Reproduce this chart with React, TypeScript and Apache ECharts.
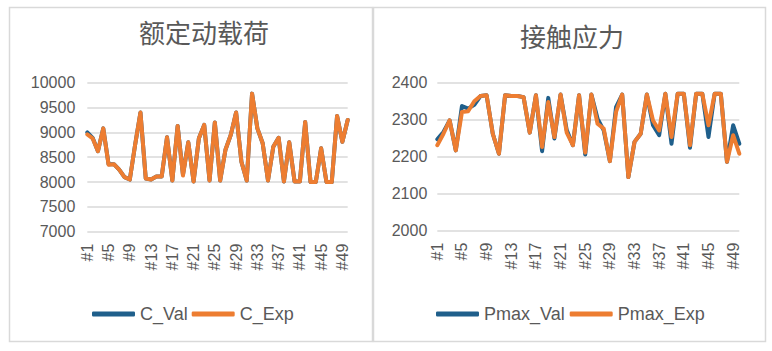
import React, { useEffect, useRef } from "react";
import * as echarts from "echarts";

const categories: string[] = Array.from({ length: 50 }, (_, i) => "#" + (i + 1));

const cVal = [9000, 8890, 8620, 9080, 8360, 8360, 8250, 8100, 8050, 8750, 9400, 8070, 8050, 8110, 8110, 8900, 8030, 9130, 8150, 8800, 8010, 8880, 9150, 8030, 9200, 8030, 8650, 8950, 9400, 8410, 8030, 9780, 9080, 8780, 8030, 8710, 8890, 8010, 8800, 8010, 8010, 9210, 8000, 8000, 8680, 8000, 8000, 9330, 8810, 9250];
const cExp = [8960, 8880, 8620, 9080, 8350, 8360, 8250, 8100, 8050, 8750, 9400, 8070, 8050, 8110, 8110, 8900, 8030, 9130, 8130, 8800, 8010, 8880, 9150, 8030, 9200, 8030, 8650, 8950, 9400, 8410, 8030, 9780, 9080, 8780, 8030, 8710, 8890, 8010, 8800, 8010, 8010, 9210, 8000, 8000, 8680, 8000, 8000, 9330, 8810, 9250];

const pVal = [2247, 2267, 2298, 2217, 2337, 2330, 2340, 2364, 2366, 2262, 2208, 2366, 2364, 2364, 2361, 2265, 2366, 2215, 2359, 2249, 2368, 2272, 2231, 2366, 2206, 2368, 2303, 2271, 2188, 2334, 2368, 2145, 2240, 2262, 2368, 2285, 2258, 2370, 2235, 2370, 2370, 2224, 2370, 2370, 2253, 2370, 2370, 2186, 2285, 2235];
const pExp = [2231, 2262, 2298, 2217, 2321, 2323, 2350, 2364, 2366, 2262, 2208, 2366, 2364, 2364, 2361, 2265, 2366, 2226, 2348, 2253, 2368, 2265, 2231, 2366, 2211, 2368, 2289, 2276, 2188, 2321, 2368, 2145, 2240, 2262, 2368, 2298, 2271, 2370, 2253, 2370, 2370, 2231, 2370, 2370, 2285, 2370, 2370, 2186, 2258, 2208];

const leftTitle = "额定动载荷";
const rightTitle = "接触应力";
const leftNames = ["C_Val", "C_Exp"];
const rightNames = ["Pmax_Val", "Pmax_Exp"];

const BLUE = "#1F5F8B";
const ORANGE = "#ED7D31";
const TEXT = "#595959";
const GRID = "#D9D9D9";
const FONT = "'Liberation Sans', Arial, sans-serif";
const CJK = "'Noto Sans CJK SC', sans-serif";

export default function App() {
  const ref = useRef<HTMLDivElement>(null);
  useEffect(() => {
    if (!ref.current) return;
    const chart = echarts.init(ref.current, undefined, { renderer: "svg" });
    const xAxisBase = (gridIndex: number) => ({
      type: "category" as const,
      gridIndex,
      data: categories,
      boundaryGap: false,
      axisLine: { show: false },
      axisTick: { show: false },
      axisLabel: {
        interval: 3,
        rotate: 90,
        margin: 12,
        color: TEXT,
        fontSize: 16,
        fontFamily: FONT,
      },
    });
    const yAxisBase = (gridIndex: number, min: number, max: number, interval: number, margin: number) => ({
      type: "value" as const,
      gridIndex,
      min,
      max,
      interval,
      axisLine: { show: false },
      axisTick: { show: false },
      splitLine: { lineStyle: { color: GRID, width: 1.5 } },
      axisLabel: {
        color: TEXT,
        fontSize: 16,
        fontFamily: FONT,
        margin,
        formatter: (v: number) => String(v),
      },
    });
    const line = (name: string, data: number[], color: string, idx: number) => ({
      name,
      type: "line" as const,
      data,
      xAxisIndex: idx,
      yAxisIndex: idx,
      symbol: "none",
      lineStyle: { color, width: 4, join: "round", cap: "round" },
      itemStyle: { color },
    });
    const legendBase = (names: string[], left: number, gap: number) => ({
      data: names,
      left,
      top: 300,
      itemWidth: 43,
      itemHeight: 5,
      itemGap: gap,
      icon: "roundRect",
      textStyle: { color: TEXT, fontSize: 18, fontFamily: FONT },
    });
    chart.setOption({
      animation: false,
      title: [
        { text: leftTitle, left: 199, top: 13, textAlign: "center", textStyle: { color: TEXT, fontSize: 26, fontWeight: "normal", fontFamily: CJK } },
        { text: rightTitle, left: 567, top: 17, textAlign: "center", textStyle: { color: TEXT, fontSize: 26, fontWeight: "normal", fontFamily: CJK } },
      ],
      graphic: [
        { type: "rect", shape: { x: 9.5, y: 7.5, width: 363, height: 334 }, style: { fill: "none", stroke: GRID, lineWidth: 1.5 }, silent: true },
        { type: "rect", shape: { x: 373.5, y: 7.5, width: 392, height: 334 }, style: { fill: "none", stroke: GRID, lineWidth: 1.5 }, silent: true },
      ],
      legend: [legendBase(leftNames, 87, 4), legendBase(rightNames, 431, 5)],
      grid: [
        { left: 87.3, top: 82.7, width: 260.4, height: 149 },
        { left: 437.3, top: 82.7, width: 302, height: 148 },
      ],
      xAxis: [xAxisBase(0), xAxisBase(1)],
      yAxis: [yAxisBase(0, 7000, 10000, 500, 12), yAxisBase(1, 2000, 2400, 100, 10)],
      series: [
        line(leftNames[0], cVal, BLUE, 0),
        line(leftNames[1], cExp, ORANGE, 0),
        line(rightNames[0], pVal, BLUE, 1),
        line(rightNames[1], pExp, ORANGE, 1),
      ],
    });
    return () => chart.dispose();
  }, []);
  return (
    <div
      ref={ref}
      style={{ position: "absolute", left: 0, top: 0, width: 772, height: 351, background: "#fff" }}
    />
  );
}
